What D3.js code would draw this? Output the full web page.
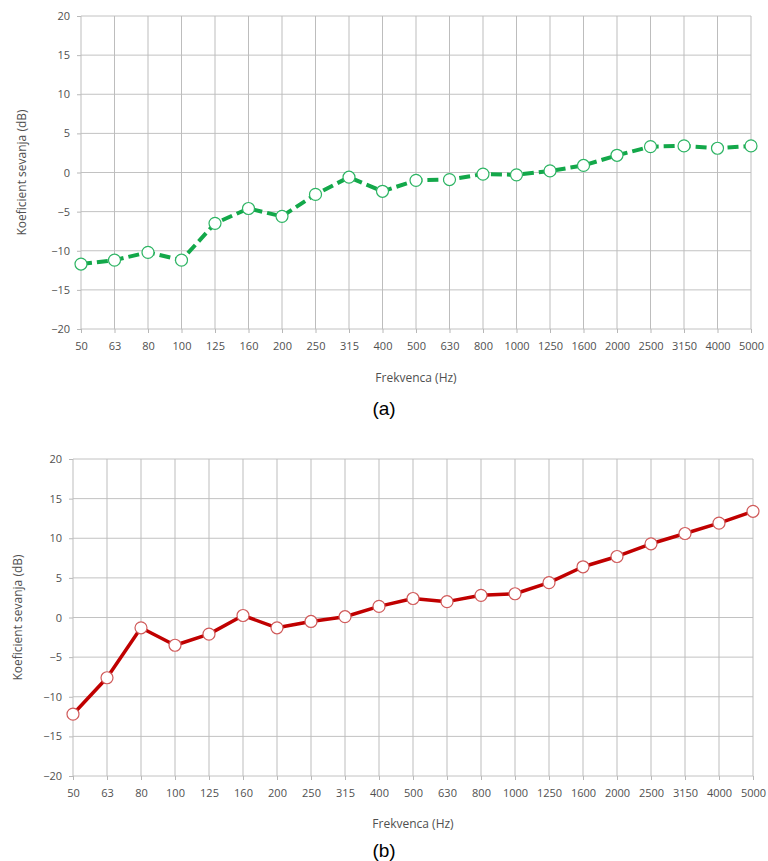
<!DOCTYPE html>
<html>
<head>
<meta charset="utf-8">
<script src="https://cdn.jsdelivr.net/npm/d3@7"></script>
<style>
  body { margin: 0; background: #fff; }
  svg { display: block; }
  .tick text { font-family: "Open Sans", sans-serif; font-size: 11px; fill: #505050; }
  .title { font-family: "Open Sans", sans-serif; font-size: 12px; fill: #505050; }
  .caption { font-family: "Liberation Sans", Arial, sans-serif; font-size: 19px; fill: #000; }
</style>
</head>
<body>
<svg id="chart" width="768" height="861"></svg>
<script>
// frequency bands (Hz)
const freqLabels = ["50", "63", "80", "100", "125", "160", "200", "250", "315", "400",
  "500", "630", "800", "1000", "1250", "1600", "2000", "2500", "3150", "4000", "5000"];

// koeficient sevanja (dB)
const seriesA = [-11.7, -11.2, -10.2, -11.2, -6.5, -4.6, -5.6, -2.8, -0.6, -2.4,
  -1.0, -0.9, -0.2, -0.3, 0.2, 0.9, 2.2, 3.3, 3.4, 3.1, 3.4];
const seriesB = [-12.2, -7.6, -1.3, -3.5, -2.1, 0.25, -1.3, -0.5, 0.1, 1.4,
  2.4, 2.0, 2.8, 3.0, 4.4, 6.4, 7.7, 9.3, 10.6, 11.9, 13.4];

const yTicks = [-20, -15, -10, -5, 0, 5, 10, 15, 20];

let svg = d3.select("#chart");

function drawPanel(cfg) {
    let g = svg.append("g");

    let x = d3.scalePoint().domain(freqLabels).range([cfg.left, cfg.right]);
    let y = d3.scaleLinear().domain([-20, 20]).range([cfg.bottom, cfg.top]);

    // horizontal grid + y ticks
    let yAxis = g.append("g")
        .attr("transform", `translate(${cfg.left},0)`)
        .call(d3.axisLeft(y).tickValues(yTicks).tickSize(4).tickPadding(7));
    yAxis.selectAll(".tick line").attr("stroke", "#b8b8b8");
    yAxis.select(".domain").remove();
    g.append("g").selectAll("line")
        .data(yTicks)
        .join("line")
        .attr("x1", cfg.left).attr("x2", cfg.right)
        .attr("y1", (d) => y(d)).attr("y2", (d) => y(d))
        .attr("stroke", "#c2c2c2");

    // vertical grid + x ticks
    let xAxis = g.append("g")
        .attr("transform", `translate(0,${cfg.bottom})`)
        .call(d3.axisBottom(x).tickSize(4).tickPadding(9));
    xAxis.selectAll(".tick line").attr("stroke", "#b8b8b8");
    xAxis.select(".domain").remove();
    g.append("g").selectAll("line")
        .data(freqLabels)
        .join("line")
        .attr("x1", (d) => x(d)).attr("x2", (d) => x(d))
        .attr("y1", cfg.top).attr("y2", cfg.bottom)
        .attr("stroke", "#bdbdbd");

    let line = d3.line()
        .x((d, i) => x(freqLabels[i]))
        .y((d) => y(d));

    g.append("path")
        .datum(cfg.values)
        .attr("d", line)
        .attr("fill", "none")
        .attr("stroke", cfg.color)
        .attr("stroke-width", cfg.width)
        .attr("stroke-dasharray", cfg.dash)
        .attr("stroke-linejoin", "round");

    g.append("g").selectAll("circle")
        .data(cfg.values)
        .join("circle")
        .attr("cx", (d, i) => x(freqLabels[i]))
        .attr("cy", (d) => y(d))
        .attr("r", 6)
        .attr("fill", "#fff")
        .attr("stroke", cfg.markerColor)
        .attr("stroke-width", 1.2);

    g.append("text")
        .attr("class", "title")
        .attr("transform", `translate(${cfg.yTitleX},${(cfg.top + cfg.bottom) / 2}) rotate(-90)`)
        .attr("text-anchor", "middle")
        .attr("dy", "0.35em")
        .text("Koeficient sevanja (dB)");

    g.append("text")
        .attr("class", "title")
        .attr("x", (cfg.left + cfg.right) / 2)
        .attr("y", cfg.xTitleY)
        .attr("text-anchor", "middle")
        .attr("dy", "0.35em")
        .text("Frekvenca (Hz)");

    g.append("text")
        .attr("class", "caption")
        .attr("x", 384)
        .attr("y", cfg.captionY)
        .attr("text-anchor", "middle")
        .attr("dy", "0.35em")
        .text(cfg.caption);
}

drawPanel({
    left: 81, right: 751, top: 16, bottom: 329,
    values: seriesA, color: "#13a84a", markerColor: "#2cb463",
    width: 4, dash: "11,5",
    yTitleX: 22, xTitleY: 378, captionY: 408, caption: "(a)"
});

drawPanel({
    left: 73, right: 753, top: 459, bottom: 776,
    values: seriesB, color: "#c00000", markerColor: "#d05a5a",
    width: 3.5, dash: null,
    yTitleX: 18, xTitleY: 824, captionY: 850, caption: "(b)"
});
</script>
</body>
</html>
